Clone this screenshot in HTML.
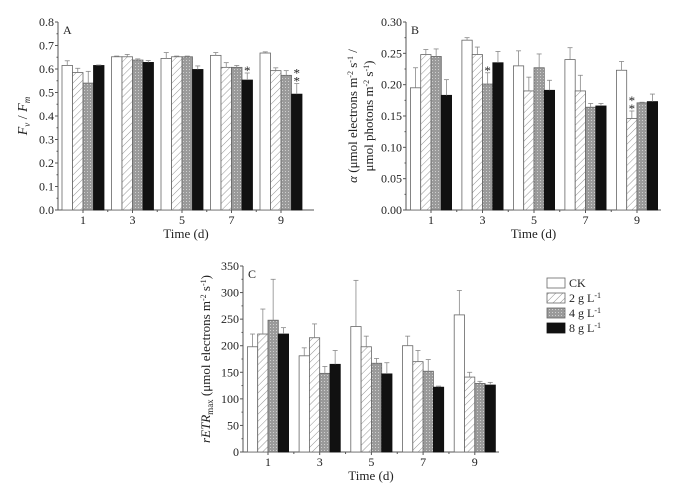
<!DOCTYPE html>
<html><head><meta charset="utf-8"><style>
body{margin:0;background:#fff}
svg{display:block;font-family:"Liberation Serif",serif}
</style></head><body>
<svg id="c" width="688" height="492" viewBox="0 0 688 492" xmlns="http://www.w3.org/2000/svg">
<defs>
<pattern id="hatch" width="5" height="5" patternUnits="userSpaceOnUse" patternTransform="rotate(45)">
<rect width="5" height="5" fill="#fff"/><line x1="0" y1="0" x2="0" y2="5" stroke="#777" stroke-width="0.8"/></pattern>
<pattern id="dots" width="3" height="3" patternUnits="userSpaceOnUse">
<rect width="3" height="3" fill="#9a9a9a"/><rect width="1" height="1" fill="#cfcfcf"/></pattern>
</defs>
</svg>
<script>
const categories=["1","3","5","7","9"];
const seriesNames=["CK","2 g L","4 g L","8 g L"];
const fvCK=[0.615,0.652,0.645,0.658,0.668];
const fv2=[0.585,0.652,0.652,0.607,0.593];
const fv4=[0.540,0.638,0.652,0.607,0.573];
const fv8=[0.615,0.628,0.598,0.553,0.493];
const fvErrCK=[0.02,0.003,0.025,0.012,0.005];
const fvErr2=[0.018,0.01,0.003,0.02,0.012];
const fvErr4=[0.05,0.005,0.003,0.008,0.02];
const fvErr8=[0.002,0.008,0.015,0.03,0.045];
const aCK=[0.195,0.271,0.230,0.240,0.223];
const a2=[0.248,0.248,0.190,0.190,0.146];
const a4=[0.245,0.201,0.227,0.164,0.171];
const a8=[0.183,0.235,0.191,0.166,0.173];
const aErrCK=[0.032,0.004,0.024,0.019,0.014];
const aErr2=[0.008,0.012,0.022,0.025,0.012];
const aErr4=[0.012,0.018,0.022,0.006,0.001];
const aErr8=[0.025,0.018,0.016,0.004,0.012];
const rCK=[198,181,236,200,258];
const r2=[222,215,198,170,141];
const r4=[248,148,167,152,129];
const r8=[222,165,147,122,126];
const rErrCK=[24,15,87,18,46];
const rErr2=[47,26,20,21,9];
const rErr4=[77,13,9,22,4];
const rErr8=[12,26,21,2,5];
const ticksA=["0.0","0.1","0.2","0.3","0.4","0.5","0.6","0.7","0.8"];
const ticksB=["0.00","0.05","0.10","0.15","0.20","0.25","0.30"];
const ticksC=["0","50","100","150","200","250","300","350"];

const svg=document.getElementById('c');
const NS="http://www.w3.org/2000/svg";
function el(t,a,p){const e=document.createElementNS(NS,t);for(const k in a)e.setAttribute(k,a[k]);(p||svg).appendChild(e);return e;}
const fills=["#fff","url(#hatch)","url(#dots)","#111"];

function panel(o){
  const g=el('g',{});
  
  
  const y=v=>o.y0-(v-o.min)/(o.max-o.min)*(o.y0-o.y1);
  const xc=i=>o.xs+i*o.step;
  // axes
  const ax=el('line',{x1:o.x0,y1:o.y0,x2:o.xe,y2:o.y0,stroke:'#555','stroke-width':1},g);
  
  const ay=el('line',{x1:o.x0,y1:o.y0,x2:o.x0,y2:o.y1,stroke:'#555','stroke-width':1},g);
  
  const n=o.ticks.length;
  o.ticks.forEach((t,i)=>{
    const v=o.min+i*(o.max-o.min)/(n-1), yy=y(v);
    el('line',{x1:o.x0-3,y1:yy,x2:o.x0,y2:yy,stroke:'#555'},g);
    if(i<n-1){const ym=y(v+(o.max-o.min)/(n-1)/2);el('line',{x1:o.x0-1.5,y1:ym,x2:o.x0,y2:ym,stroke:'#555'},g);}
    const tx=el('text',{x:o.x0-4,y:yy+4,'text-anchor':'end','font-size':12,fill:'#222'},g);
    tx.textContent=t;
    
  });
  categories.forEach((c,i)=>{
    el('line',{x1:xc(i),y1:o.y0,x2:xc(i),y2:o.y0+3,stroke:'#555'},g);
    if(i<categories.length-1)el('line',{x1:xc(i)+o.step/2,y1:o.y0,x2:xc(i)+o.step/2,y2:o.y0+2,stroke:'#555'},g);
    const tx=el('text',{x:xc(i),y:o.y0+14,'text-anchor':'middle','font-size':12,fill:'#222'},g);
    tx.textContent=c;
    
  });
  o.series.forEach((s,si)=>{
    s.forEach((v,i)=>{
      const bx=xc(i)+(si-2)*o.bw;
      const r=el('rect',{x:bx,y:y(v),width:o.bw,height:o.y0-y(v),fill:fills[si],stroke:si==3?'#111':'#666','stroke-width':0.8},g);
      
      
      const e=o.errs[si][i], cx=bx+o.bw/2;
      el('line',{x1:cx,y1:y(v+e),x2:cx,y2:y(v),stroke:'#888','stroke-width':0.8},g);
      el('line',{x1:cx-2.5,y1:y(v+e),x2:cx+2.5,y2:y(v+e),stroke:'#888','stroke-width':0.8},g);
    });
  });
  (o.stars||[]).forEach(s=>{
    const bx=xc(s.i)+(s.s-2)*o.bw+o.bw/2, top=y(o.series[s.s][s.i]+o.errs[s.s][s.i]);
    for(let k=0;k<s.n;k++){const t=el('text',{x:bx,y:top-2-(s.n-1-k)*8+4,'text-anchor':'middle','font-size':13,fill:'#222'},g);t.textContent='*';
      }
  });
  const L=el('text',{x:o.x0+5,y:o.y1+12,'font-size':12,fill:'#222'},g);L.textContent=o.letter;
  
  const xt=el('text',{x:(o.x0+o.xe)/2,y:o.y0+28,'text-anchor':'middle','font-size':13,fill:'#222'},g);xt.textContent='Time (d)';
  
  return g;
}
panel({name:'panel-a',letter:'A',x0:58,xe:314,y0:210,y1:22,min:0,max:0.8,xs:83,step:49.5,bw:10.5,ticks:ticksA,
  series:[fvCK,fv2,fv4,fv8],errs:[fvErrCK,fvErr2,fvErr4,fvErr8],stars:[{i:3,s:3,n:1},{i:4,s:3,n:2}]});
panel({name:'panel-b',letter:'B',x0:406,xe:661,y0:210,y1:22,min:0,max:0.30,xs:431,step:51.5,bw:10.3,ticks:ticksB,
  series:[aCK,a2,a4,a8],errs:[aErrCK,aErr2,aErr4,aErr8],stars:[{i:1,s:2,n:1},{i:4,s:1,n:2}]});
panel({name:'panel-c',letter:'C',x0:243,xe:499,y0:452,y1:266,min:0,max:350,xs:268,step:51.7,bw:10.3,ticks:ticksC,
  series:[rCK,r2,r4,r8],errs:[rErrCK,rErr2,rErr4,rErr8]});

// legend
const lg=el('g',{});


const ly=[283,298,313,328];
seriesNames.forEach((nm,i)=>{
  el('rect',{x:547,y:ly[i]-5,width:18,height:10,fill:fills[i],stroke:i==3?'#111':'#666','stroke-width':0.8},lg);
  const t=el('text',{x:569,y:ly[i]+4,'font-size':12,fill:'#222'},lg);
  
  
  if(i==0)t.textContent=nm;else t.innerHTML=nm+'<tspan dy="-4" font-size="8">-1</tspan>';
});
</script>
<svg width="0" height="0"></svg>
<div style="position:absolute;left:0;top:0;width:688px;height:492px;pointer-events:none">
<svg width="688" height="492" style="position:absolute;left:0;top:0;font-family:'Liberation Serif',serif">
<text transform="translate(27,116) rotate(-90)" text-anchor="middle" font-size="14" fill="#222"><tspan font-style="italic">F</tspan><tspan font-size="9" dy="3" font-style="italic">v</tspan><tspan dy="-3"> / </tspan><tspan font-style="italic">F</tspan><tspan font-size="9" dy="3" font-style="italic">m</tspan></text>
<text transform="translate(357,116) rotate(-90)" text-anchor="middle" font-size="13" fill="#222"><tspan font-style="italic">α</tspan> (μmol electrons m<tspan font-size="8" dy="-4">-2</tspan><tspan dy="4"> s</tspan><tspan font-size="8" dy="-4">-1</tspan><tspan dy="4"> /</tspan></text>
<text transform="translate(373,116) rotate(-90)" text-anchor="middle" font-size="13" fill="#222">μmol photons m<tspan font-size="8" dy="-4">-2</tspan><tspan dy="4"> s</tspan><tspan font-size="8" dy="-4">-1</tspan><tspan dy="4">)</tspan></text>
<text transform="translate(210,359) rotate(-90)" text-anchor="middle" font-size="13" fill="#222"><tspan font-style="italic">rETR</tspan><tspan font-size="9" dy="3">max</tspan><tspan dy="-3"> (μmol electrons m</tspan><tspan font-size="8" dy="-4">-2</tspan><tspan dy="4"> s</tspan><tspan font-size="8" dy="-4">-1</tspan><tspan dy="4">)</tspan></text>
</svg></div>
</body></html>
